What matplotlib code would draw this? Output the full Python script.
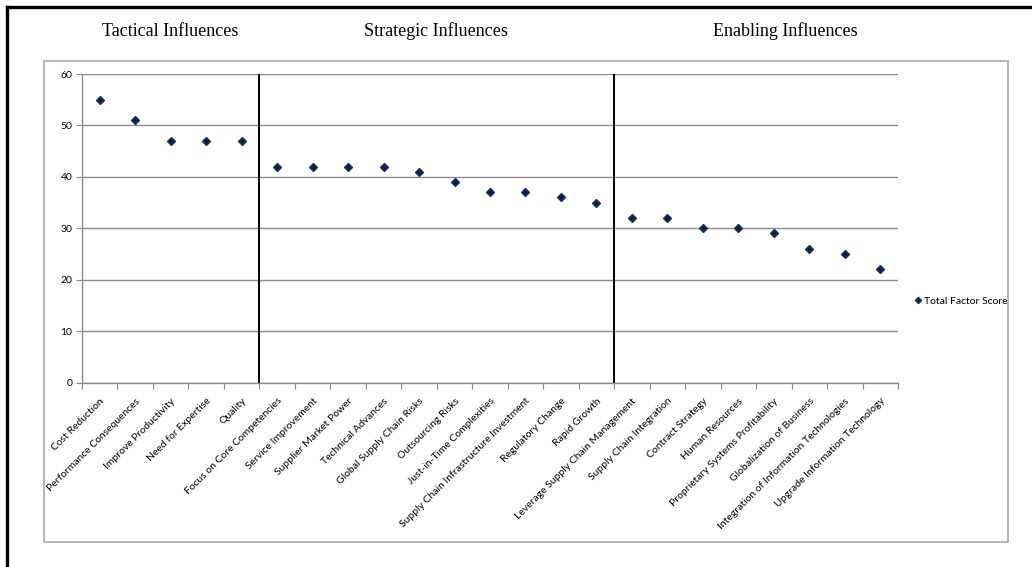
import numpy as np
import matplotlib.pyplot as plt
from matplotlib.lines import Line2D
from matplotlib.patches import Rectangle

plt.rcParams['font.family'] = 'Lato'

factors = ['Cost Reduction', 'Performance Consequences', 'Improve Productivity',
           'Need for Expertise', 'Quality', 'Focus on Core Competencies',
           'Service Improvement', 'Supplier Market Power', 'Technical Advances',
           'Global Supply Chain Risks', 'Outsourcing Risks', 'Just-in-Time Complexities',
           'Supply Chain Infrastructure Investment', 'Regulatory Change', 'Rapid Growth',
           'Leverage Supply Chain Management', 'Supply Chain Integration',
           'Contract Strategy', 'Human Resources', 'Proprietary Systems Profitability',
           'Globalization of Business', 'Integration of Information Technologies',
           'Upgrade Information Technology']
scores = [55, 51, 47, 47, 47, 42, 42, 42, 42, 41, 39, 37, 37, 36, 35,
          32, 32, 30, 30, 29, 26, 25, 22]
groups = ['Tactical Influences', 'Strategic Influences', 'Enabling Influences']
group_breaks = [5, 15]

W, H = 1032, 567
fig = plt.figure(figsize=(W / 100, H / 100), dpi=100)

# outer frame pieces (black top/left, gray chart box)
fig.add_artist(Line2D([7 / W, 7 / W], [0, 1 - 7 / H], color='black', lw=2.4))
fig.add_artist(Line2D([7 / W, 1], [1 - 7 / H, 1 - 7 / H], color='black', lw=2.4))
fig.add_artist(Rectangle((44 / W, 1 - 542 / H), (1008 - 44) / W, (542 - 61) / H,
                         fill=False, edgecolor='#b0b0b0', lw=1.3))

ax = fig.add_axes([82 / W, 1 - 382.5 / H, (898 - 82) / W, (382.5 - 74) / H])
x = np.arange(len(factors)) + 0.5
ax.plot(x, scores, linestyle='none', marker='D', markersize=4,
        color='#0b1f45', markeredgecolor='#1c3560', label='Total Factor Score', zorder=3)

for b in group_breaks:
    ax.axvline(b, color='black', lw=1.4, zorder=2)

ax.set_xlim(0, len(factors))
ax.set_ylim(0, 60)
ax.set_yticks(np.arange(0, 61, 10))
ax.yaxis.grid(True, color='#8c8c8c', lw=1)
ax.set_axisbelow(True)
for s in ['top', 'right']:
    ax.spines[s].set_visible(False)
for s in ['left', 'bottom']:
    ax.spines[s].set_color('#8c8c8c')
    ax.spines[s].set_linewidth(1)

ax.set_xticks(np.arange(0, len(factors) + 1))
ax.set_xticklabels([])
ax.set_xticks(x, minor=True)
ax.set_xticklabels(factors, minor=True, rotation=45, ha='right',
                   rotation_mode='anchor', fontsize=7.5)
ax.tick_params(axis='x', which='major', length=4, color='#8c8c8c')
ax.tick_params(axis='x', which='minor', length=0, pad=10)
ax.tick_params(axis='y', length=4, color='#8c8c8c', labelsize=7.5, pad=3)

ax.legend(loc='center left', bbox_to_anchor=(905 / W, 1 - 301 / H),
          bbox_transform=fig.transFigure, frameon=False, fontsize=7.5,
          handlelength=0.6, handletextpad=0.3, markerscale=0.8)

title_x = [170, 436, 785]
for g, tx in zip(groups, title_x):
    fig.text(tx / W, 1 - 31 / H, g, ha='center', va='center',
             family='Liberation Serif', fontsize=13)

fig.savefig('out.png', dpi=100)
